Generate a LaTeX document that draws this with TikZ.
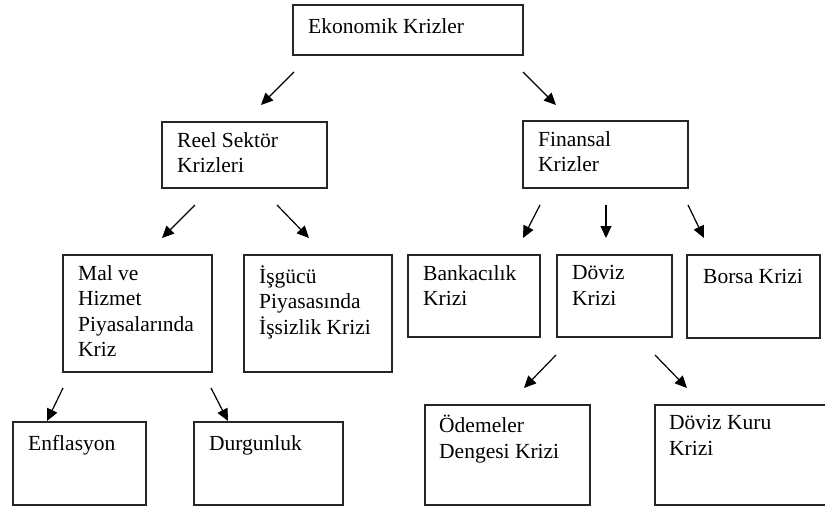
\documentclass[tikz,border=0pt]{standalone}
\usepackage{fontspec}
\setmainfont{Liberation Serif}
\usetikzlibrary{arrows.meta}
\tikzset{
  box/.style={draw=black!85, line width=1.3pt, inner sep=0pt, outer sep=0pt, anchor=north west},
  txt/.style={anchor=north west, inner xsep=15pt, inner ysep=10.15pt, align=left,
    font=\fontsize{21.5}{25.5}\selectfont, execute at begin node=\strut},
  arr/.style={line width=1.2pt, -{Triangle[length=12pt,width=11pt]}}
}
\begin{document}
\begin{tikzpicture}[x=1pt,y=-1pt]
\useasboundingbox (0,0) rectangle (825,506);
\clip (0,0) rectangle (825,506);
% boxes
\node[box, minimum width=230pt, minimum height=50pt] (eko) at (293,5) {};
\node[box, minimum width=165pt, minimum height=66pt] (reel) at (162,122) {};
\node[box, minimum width=165pt, minimum height=67pt] (fin) at (523,121) {};
\node[box, minimum width=149pt, minimum height=117pt] (mal) at (63,255) {};
\node[box, minimum width=148pt, minimum height=117pt] (isg) at (244,255) {};
\node[box, minimum width=132pt, minimum height=82pt] (bank) at (408,255) {};
\node[box, minimum width=115pt, minimum height=82pt] (doviz) at (557,255) {};
\node[box, minimum width=133pt, minimum height=83pt] (borsa) at (687,255) {};
\node[box, minimum width=133pt, minimum height=83pt] (enf) at (13,422) {};
\node[box, minimum width=149pt, minimum height=83pt] (durg) at (194,422) {};
\node[box, minimum width=165pt, minimum height=100pt] (odeme) at (425,405) {};
\node[box, minimum width=175pt, minimum height=100pt] (kur) at (655,405) {};
% texts
\node[txt] (teko) at (eko.north west) {Ekonomik Krizler};
\node[txt] (treel) at (reel.north west) {Reel Sektör\\Krizleri};
\node[txt] (tfin) at (fin.north west) {Finansal\\Krizler};
\node[txt] (tmal) at (mal.north west) {Mal ve\\Hizmet\\Piyasalarında\\Kriz};
\node[txt] (tisg) at (isg.north west) {İşgücü\\Piyasasında\\İşsizlik Krizi};
\node[txt] (tbank) at (bank.north west) {Bankacılık\\Krizi};
\node[txt] (tdoviz) at (doviz.north west) {Döviz\\Krizi};
\node[txt, inner xsep=16pt] (tborsa) at (borsa.north west) {Borsa Krizi};
\node[txt] (tenf) at (enf.north west) {Enflasyon};
\node[txt] (tdurg) at (durg.north west) {Durgunluk};
\node[txt, inner xsep=14pt] (todeme) at (odeme.north west) {Ödemeler\\Dengesi Krizi};
\node[txt, inner xsep=14pt] (tkur) at (kur.north west) {Döviz Kuru\\Krizi};
% arrow end points
\coordinate (a1s) at (294,72);  \coordinate (a1e) at (261,105);
\coordinate (a2s) at (523,72);  \coordinate (a2e) at (556,105);
\coordinate (a3s) at (195,205); \coordinate (a3e) at (162,238);
\coordinate (a4s) at (277,205); \coordinate (a4e) at (309,238);
\coordinate (a5s) at (540,205); \coordinate (a5e) at (523,238);
\coordinate (a6s) at (606,205); \coordinate (a6e) at (606,238);
\coordinate (a7s) at (688,205); \coordinate (a7e) at (704,238);
\coordinate (a8s) at (556,355); \coordinate (a8e) at (524,388);
\coordinate (a9s) at (655,355); \coordinate (a9e) at (687,388);
\coordinate (a10s) at (63,388); \coordinate (a10e) at (47,421);
\coordinate (a11s) at (211,388); \coordinate (a11e) at (228,421);
\foreach \i in {1,...,11} {\draw[arr] (a\i s) -- (a\i e);}
\end{tikzpicture}
\end{document}
